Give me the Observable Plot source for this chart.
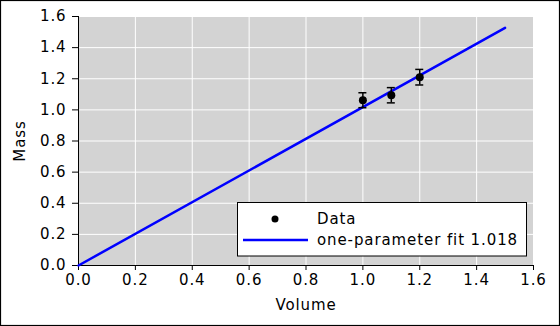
<!DOCTYPE html>
<html>
<head>
<meta charset="utf-8">
<script src="https://cdn.jsdelivr.net/npm/d3@7"></script>
<script src="https://cdn.jsdelivr.net/npm/@observablehq/plot@0.6"></script>
<style>
  html, body { margin: 0; padding: 0; background: #fff; }
  #chart { width: 560px; height: 326px; }
  svg { display: block; }
</style>
</head>
<body>
<div id="chart"></div>
<script>
// ---- data ----
const volume = [1.0, 1.1, 1.2];
const mass = [1.062, 1.094, 1.210];
const massErr = [0.048, 0.049, 0.050];
const fitX = [0, 1.5];
const fitY = [0, 1.527];
const fitLabel = "one-parameter fit 1.018";
const dataLabel = "Data";
const xTicks = [0, 0.2, 0.4, 0.6, 0.8, 1.0, 1.2, 1.4, 1.6];
const yTicks = [0, 0.2, 0.4, 0.6, 0.8, 1.0, 1.2, 1.4, 1.6];
const xLabel = "Volume";
const yLabel = "Mass";

const points = volume.map((v, i) => ({x: v, y: mass[i], lo: mass[i] - massErr[i], hi: mass[i] + massErr[i]}));
const fit = fitX.map((v, i) => ({x: v, y: fitY[i]}));
const fmt = d3.format(".1f");

const W = 560, H = 326;
const plot = Plot.plot({
  width: W,
  height: H,
  marginLeft: 78,
  marginRight: 27,
  marginTop: 16,
  marginBottom: 61,
  style: {fontFamily: "DejaVu Sans", fontSize: "15px", letterSpacing: "0.9px", color: "#000", background: "#fff"},
  x: {type: "linear", domain: [0, 1.6]},
  y: {type: "linear", domain: [0, 1.6]},
  marks: [
    Plot.frame({fill: "#d3d3d3", stroke: null}),
    Plot.gridX(xTicks, {stroke: "#fff", strokeOpacity: 1, strokeWidth: 1}),
    Plot.gridY(yTicks, {stroke: "#fff", strokeOpacity: 1, strokeWidth: 1}),
    Plot.axisX(xTicks, {tickFormat: fmt, tickSize: 5, tickPadding: 4, stroke: "#000", label: xLabel, labelAnchor: "center", labelArrow: "none", labelOffset: 44}),
    Plot.axisY(yTicks, {tickFormat: fmt, tickSize: 6, tickPadding: 6, stroke: "#000", label: yLabel, labelAnchor: "center", labelArrow: "none", labelOffset: 64}),
    Plot.ruleX([0], {stroke: "#000", strokeWidth: 1}),
    Plot.ruleY([0], {stroke: "#000", strokeWidth: 1}),
    Plot.line(fit, {x: "x", y: "y", stroke: "#0000ff", strokeWidth: 2.5}),
    Plot.ruleX(points, {x: "x", y1: "lo", y2: "hi", stroke: "#000", strokeWidth: 1.5}),
    Plot.ruleY(points, {y: "lo", x1: "x", x2: "x", insetLeft: -4, insetRight: -4, stroke: "#000", strokeWidth: 1.5}),
    Plot.ruleY(points, {y: "hi", x1: "x", x2: "x", insetLeft: -4, insetRight: -4, stroke: "#000", strokeWidth: 1.5}),
    Plot.dot(points, {x: "x", y: "y", r: 4, fill: "#000", stroke: null})
  ]
});

const svg = d3.select(plot);
// Legend (layout box)
const lg = svg.append("g").attr("font-family", "DejaVu Sans").attr("font-size", 15)
  .attr("letter-spacing", "0.9px").attr("text-anchor", "start");
lg.append("rect").attr("x", 237.5).attr("y", 202.5).attr("width", 289).attr("height", 53.5)
  .attr("fill", "#fff").attr("stroke", "#000").attr("stroke-width", 1);
lg.append("circle").attr("cx", 275).attr("cy", 219).attr("r", 3.5).attr("fill", "#000");
lg.append("text").attr("x", 317).attr("y", 219).attr("dy", "0.35em").attr("fill", "#000").text(dataLabel);
lg.append("line").attr("x1", 243).attr("x2", 308).attr("y1", 240).attr("y2", 240)
  .attr("stroke", "#0000ff").attr("stroke-width", 2.5);
lg.append("text").attr("x", 317).attr("y", 240).attr("dy", "0.35em").attr("fill", "#000").text(fitLabel);
// outer figure border
svg.append("rect").attr("x", 0.5).attr("y", 0.5).attr("width", W - 1).attr("height", H - 1)
  .attr("fill", "none").attr("stroke", "#000").attr("stroke-width", 1.2);

document.getElementById("chart").appendChild(plot);
</script>
</body>
</html>
